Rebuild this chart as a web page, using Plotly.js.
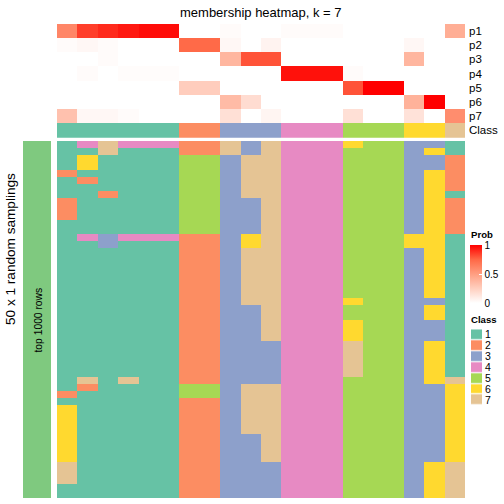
<!DOCTYPE html>
<html><head><meta charset="utf-8">
<script src="https://cdn.plot.ly/plotly-3.0.1.min.js"></script>
<style>html,body{margin:0;padding:0;background:#fff}#chart{width:504px;height:504px}</style>
</head><body><div id="chart"></div>
<script>
// ---- data ----
const sampleIds = [1,2,3,4,5,6,7,8,9,10,11,12,13,14,15,16,17,18,19,20];
const memberRows = ['p1','p2','p3','p4','p5','p6','p7'];
const p1 = [0.61,0.85,0.90,0.94,0.97,0.97,0,0,0.02,0,0,0.02,0.02,0.02,0,0,0,0,0,0.42];
const p2 = [0.02,0.04,0.02,0,0,0,0.74,0.74,0.04,0,0.06,0,0,0,0,0,0,0.04,0,0];
const p3 = [0,0,0.02,0,0,0,0,0,0.38,0.80,0.80,0,0,0,0,0,0,0.38,0,0];
const p4 = [0,0.02,0,0.015,0.015,0.015,0,0,0,0,0,0.96,0.96,0.96,0.02,0,0,0,0,0];
const p5 = [0,0,0,0,0,0,0.26,0.26,0,0,0,0,0,0,0.80,1,1,0,0,0];
const p6 = [0,0,0,0,0,0,0,0,0.35,0.18,0,0,0,0,0,0,0,0.40,1,0];
const p7 = [0.32,0.04,0.04,0.02,0,0,0,0,0.16,0,0.05,0,0,0,0.16,0,0,0.15,0,0.58];
const classRow = [1,1,1,1,1,1,2,2,3,3,3,4,4,4,5,5,5,6,6,7];
const classLabels = ['1','2','3','4','5','6','7'];
const classColors = ['#66C2A5','#FC8D62','#8DA0CB','#E78AC3','#A6D854','#FFD92F','#E5C494'];
const probTicks = [0, 0.5, 1];
// 50 random samplings, one string per sampling, class of each of the 20 samples
const samplings = [
 "14744422737444655331","11711122737444555361","16111155377444555332","16111155377444555332",
 "21111155377444555362","12111155377444555362","11111155377444555362","11211155377444555361",
 "21111155337444555362","21111155337444555362","21111155337444555362","11111155337444555362",
 "11111155337444555362","14344422367444555661","11311122367444555661","11111122377444555361",
 "11111122377444555361","11111122377444555361","11111122377444555361","11111122377444555361",
 "11111122377444555361","11111122377444555361","11111122377444655331","11111122337444555361",
 "11111122337444555361","11111122337444655331","11111122337444655331","11111122337444655331",
 "11111122333444755361","11111122333444755361","11111122333444755361","11111122333444755361",
 "11111122333444755361","17171122333444555367","12111155377444555336","21111155377444555336",
 "11111122377444555336","61111122377444555336","61111122377444555336","61111122377444555336",
 "61111122377444555336","61111122337444555336","61111122337444555336","61111122337444555336",
 "61111122337444555336","71111122333444555367","71111122333444555367","71111122333444555367",
 "11111122333444555367","11111122333444555367"
];
const samplingIds = samplings.map((s, i) => i + 1);
const leftBarLabel = 'top 1000 rows';

// ---- helpers ----
const W = 504, H = 504;
const fx = v => v / W;
const fy = v => 1 - v / H;
const discrete = [];
classColors.forEach((c, i) => { discrete.push([i / 7, c]); discrete.push([(i + 1) / 7, c]); });
const samplingZ = samplings.map(s => s.split('').map(Number));
const FONT = 'Liberation Sans, Arial, sans-serif';

const traces = [
  { type: 'heatmap', x: sampleIds, y: memberRows, z: [p1, p2, p3, p4, p5, p6, p7],
    xaxis: 'x', yaxis: 'y', zmin: 0, zmax: 1,
    colorscale: [[0,'#FFFFFF'],[0.25,'#FFCFBF'],[0.5,'#FF9E81'],[0.75,'#FF6846'],[1,'#FF0000']],
    colorbar: { x: fx(470), xanchor: 'left', y: fy(274.5), yanchor: 'middle',
      len: 58, lenmode: 'pixels', thickness: 12, thicknessmode: 'pixels',
      outlinewidth: 0, xpad: 0, ypad: 0, tickvals: probTicks, ticktext: probTicks.map(String),
      ticks: 'inside', ticklen: 3, tickcolor: '#ffffff', tickfont: { size: 10, color: '#000', family: FONT } },
    hoverinfo: 'skip' },
  { type: 'heatmap', x: sampleIds, y: ['Class'], z: [classRow], xaxis: 'x', yaxis: 'y2',
    zmin: 0.5, zmax: 7.5, colorscale: discrete, showscale: false, hoverinfo: 'skip' },
  { type: 'heatmap', x: sampleIds, y: samplingIds, z: samplingZ, xaxis: 'x', yaxis: 'y3',
    zmin: 0.5, zmax: 7.5, colorscale: discrete, showscale: false, hoverinfo: 'skip' },
  { type: 'heatmap', x: [leftBarLabel], y: [leftBarLabel], z: [[1]], xaxis: 'x2', yaxis: 'y4',
    colorscale: [[0,'#7FC97F'],[1,'#7FC97F']], showscale: false, hoverinfo: 'skip' },
  { type: 'heatmap', x: ['Class'], y: classLabels, z: classLabels.map(c => [Number(c)]),
    xaxis: 'x3', yaxis: 'y5', ygap: 1.2, zmin: 0.5, zmax: 7.5, colorscale: discrete,
    showscale: false, hoverinfo: 'skip' }
];

const hidden = { visible: false, showgrid: false, zeroline: false, fixedrange: true };
const layout = {
  width: W, height: H, margin: { l: 0, r: 0, t: 0, b: 0 },
  paper_bgcolor: '#fff', plot_bgcolor: '#fff',
  font: { family: FONT, color: '#000' },
  xaxis: Object.assign({}, hidden, { domain: [fx(57), fx(465)], anchor: 'y3' }),
  yaxis: { domain: [fy(123), fy(24)], type: 'category', autorange: 'reversed', side: 'right',
    anchor: 'x', ticks: '', ticklabelstandoff: 3, showgrid: false, zeroline: false, showline: false,
    tickmode: 'array', tickvals: memberRows,
    tickfont: { size: 11.5, color: '#000' }, fixedrange: true },
  yaxis2: { domain: [fy(137.7), fy(123)], type: 'category', side: 'right', anchor: 'x',
    ticks: '', ticklabelstandoff: 3, showgrid: false, zeroline: false, showline: false,
    tickfont: { size: 11.5, color: '#000' }, fixedrange: true },
  yaxis3: Object.assign({}, hidden, { domain: [fy(498), fy(141)], anchor: 'x', autorange: 'reversed' }),
  xaxis2: Object.assign({}, hidden, { domain: [fx(23), fx(51)], anchor: 'y4' }),
  yaxis4: Object.assign({}, hidden, { domain: [fy(498), fy(141)], anchor: 'x2' }),
  xaxis3: Object.assign({}, hidden, { domain: [fx(471), fx(482)], anchor: 'y5' }),
  yaxis5: { domain: [fy(405.6), fy(329.3)], type: 'category', autorange: 'reversed', side: 'right',
    anchor: 'x3', ticks: '', ticklabelstandoff: 2, showgrid: false, zeroline: false, showline: false,
    tickmode: 'array', tickvals: classLabels, ticktext: classLabels,
    tickfont: { size: 10.5, color: '#000' }, fixedrange: true },
  annotations: [
    { text: 'membership heatmap, k = 7', x: fx(261), y: fy(12), xref: 'paper', yref: 'paper',
      xanchor: 'center', yanchor: 'middle', showarrow: false, font: { size: 13 } },
    { text: '50 x 1 random samplings', x: fx(10), y: fy(249), xref: 'paper', yref: 'paper',
      xanchor: 'center', yanchor: 'middle', textangle: -90, showarrow: false, font: { size: 13.6 } },
    { text: leftBarLabel, x: fx(37.5), y: fy(320), xref: 'paper', yref: 'paper',
      xanchor: 'center', yanchor: 'middle', textangle: -90, showarrow: false, font: { size: 10.3 } },
    { text: '<b>Prob</b>', x: fx(469), y: fy(234.5), xref: 'paper', yref: 'paper',
      xanchor: 'left', yanchor: 'middle', showarrow: false, font: { size: 9.6 } },
    { text: '<b>Class</b>', x: fx(469), y: fy(319), xref: 'paper', yref: 'paper',
      xanchor: 'left', yanchor: 'middle', showarrow: false, font: { size: 9.6 } }
  ]
};

Plotly.newPlot('chart', traces, layout, { displayModeBar: false, staticPlot: true });
</script>
</body></html>
